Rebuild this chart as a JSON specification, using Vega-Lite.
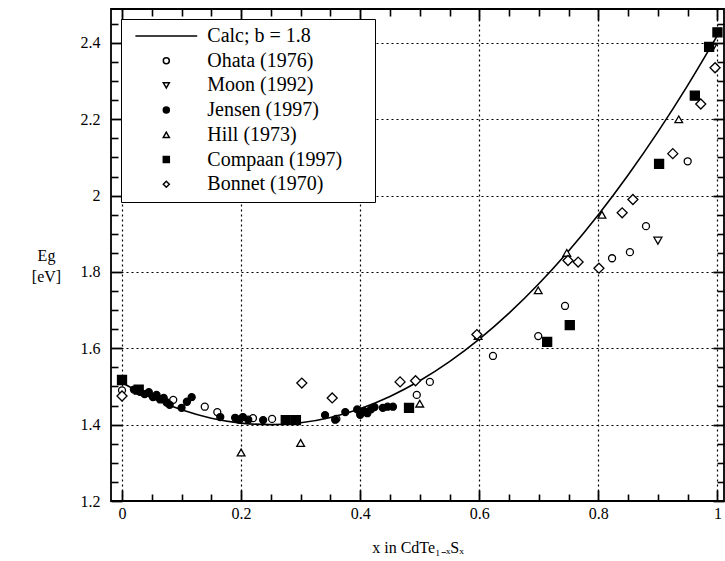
{
  "$schema": "https://vega.github.io/schema/vega-lite/v6.json",
  "width": 613,
  "height": 492,
  "autosize": {"type": "none"},
  "padding": {"left": 111, "top": 9, "right": 1, "bottom": 60},
  "config": {
    "view": {"stroke": "black", "strokeWidth": 1.8},
    "font": "Liberation Serif",
    "axis": {
      "domain": false,
      "labelFont": "Liberation Serif",
      "labelFontSize": 16,
      "labelColor": "black",
      "titleFont": "Liberation Serif",
      "titleFontSize": 16,
      "titleFontWeight": "normal",
      "titleColor": "black",
      "gridColor": "black",
      "gridDash": [2, 3],
      "gridWidth": 1.2,
      "labelOverlap": false,
      "labelFlush": false,
      "labelBound": false
    },
    "legend": {
      "labelFont": "Liberation Serif",
      "labelFontSize": 20,
      "labelColor": "black",
      "labelLimit": 400
    }
  },
  "datasets": {
    "calc": [
      {"x": 0, "y": 1.51}, {"x": 0.05, "y": 1.470}, {"x": 0.1, "y": 1.439}, {"x": 0.15, "y": 1.417},
      {"x": 0.2, "y": 1.404}, {"x": 0.25, "y": 1.400}, {"x": 0.3, "y": 1.405}, {"x": 0.35, "y": 1.419},
      {"x": 0.4, "y": 1.442}, {"x": 0.45, "y": 1.474}, {"x": 0.5, "y": 1.515}, {"x": 0.55, "y": 1.565},
      {"x": 0.6, "y": 1.624}, {"x": 0.65, "y": 1.692}, {"x": 0.7, "y": 1.769}, {"x": 0.75, "y": 1.855},
      {"x": 0.8, "y": 1.950}, {"x": 0.85, "y": 2.054}, {"x": 0.9, "y": 2.167}, {"x": 0.95, "y": 2.289},
      {"x": 1.0, "y": 2.42}
    ],
    "points": [
      {"series": "Ohata (1976)", "x": 0, "y": 1.49},
      {"series": "Ohata (1976)", "x": 0.086, "y": 1.465},
      {"series": "Ohata (1976)", "x": 0.139, "y": 1.447},
      {"series": "Ohata (1976)", "x": 0.16, "y": 1.433},
      {"series": "Ohata (1976)", "x": 0.22, "y": 1.417},
      {"series": "Ohata (1976)", "x": 0.252, "y": 1.415},
      {"series": "Ohata (1976)", "x": 0.36, "y": 1.415},
      {"series": "Ohata (1976)", "x": 0.495, "y": 1.478},
      {"series": "Ohata (1976)", "x": 0.517, "y": 1.512},
      {"series": "Ohata (1976)", "x": 0.623, "y": 1.58},
      {"series": "Ohata (1976)", "x": 0.699, "y": 1.632},
      {"series": "Ohata (1976)", "x": 0.744, "y": 1.711},
      {"series": "Ohata (1976)", "x": 0.823, "y": 1.836},
      {"series": "Ohata (1976)", "x": 0.853, "y": 1.852},
      {"series": "Ohata (1976)", "x": 0.88, "y": 1.92},
      {"series": "Ohata (1976)", "x": 0.95, "y": 2.09},
      {"series": "Moon (1992)", "x": 0.9, "y": 1.882},
      {"series": "Moon (1992)", "x": 0.992, "y": 2.388},
      {"series": "Jensen (1997)", "x": 0.02, "y": 1.492},
      {"series": "Jensen (1997)", "x": 0.03, "y": 1.486},
      {"series": "Jensen (1997)", "x": 0.038, "y": 1.48},
      {"series": "Jensen (1997)", "x": 0.045, "y": 1.485},
      {"series": "Jensen (1997)", "x": 0.052, "y": 1.472},
      {"series": "Jensen (1997)", "x": 0.058, "y": 1.478},
      {"series": "Jensen (1997)", "x": 0.064, "y": 1.466},
      {"series": "Jensen (1997)", "x": 0.07, "y": 1.47},
      {"series": "Jensen (1997)", "x": 0.075, "y": 1.458},
      {"series": "Jensen (1997)", "x": 0.08, "y": 1.452},
      {"series": "Jensen (1997)", "x": 0.1, "y": 1.444},
      {"series": "Jensen (1997)", "x": 0.109, "y": 1.46},
      {"series": "Jensen (1997)", "x": 0.117, "y": 1.472},
      {"series": "Jensen (1997)", "x": 0.165, "y": 1.42},
      {"series": "Jensen (1997)", "x": 0.19, "y": 1.418},
      {"series": "Jensen (1997)", "x": 0.197, "y": 1.413},
      {"series": "Jensen (1997)", "x": 0.203, "y": 1.42},
      {"series": "Jensen (1997)", "x": 0.212, "y": 1.413},
      {"series": "Jensen (1997)", "x": 0.237, "y": 1.412},
      {"series": "Jensen (1997)", "x": 0.341, "y": 1.425},
      {"series": "Jensen (1997)", "x": 0.358, "y": 1.413},
      {"series": "Jensen (1997)", "x": 0.375, "y": 1.433},
      {"series": "Jensen (1997)", "x": 0.395, "y": 1.44},
      {"series": "Jensen (1997)", "x": 0.4, "y": 1.426},
      {"series": "Jensen (1997)", "x": 0.406, "y": 1.436},
      {"series": "Jensen (1997)", "x": 0.412, "y": 1.43},
      {"series": "Jensen (1997)", "x": 0.418, "y": 1.44},
      {"series": "Jensen (1997)", "x": 0.424, "y": 1.446},
      {"series": "Jensen (1997)", "x": 0.438, "y": 1.444},
      {"series": "Jensen (1997)", "x": 0.446, "y": 1.447},
      {"series": "Jensen (1997)", "x": 0.455, "y": 1.447},
      {"series": "Hill (1973)", "x": 0.2, "y": 1.327},
      {"series": "Hill (1973)", "x": 0.3, "y": 1.352},
      {"series": "Hill (1973)", "x": 0.5, "y": 1.455},
      {"series": "Hill (1973)", "x": 0.598, "y": 1.632},
      {"series": "Hill (1973)", "x": 0.699, "y": 1.752},
      {"series": "Hill (1973)", "x": 0.747, "y": 1.85},
      {"series": "Hill (1973)", "x": 0.806, "y": 1.95},
      {"series": "Hill (1973)", "x": 0.935, "y": 2.2},
      {"series": "Compaan (1997)", "x": 0, "y": 1.517},
      {"series": "Compaan (1997)", "x": 0.028, "y": 1.492},
      {"series": "Compaan (1997)", "x": 0.275, "y": 1.412},
      {"series": "Compaan (1997)", "x": 0.292, "y": 1.412},
      {"series": "Compaan (1997)", "x": 0.482, "y": 1.444},
      {"series": "Compaan (1997)", "x": 0.714, "y": 1.617},
      {"series": "Compaan (1997)", "x": 0.752, "y": 1.661},
      {"series": "Compaan (1997)", "x": 0.902, "y": 2.083},
      {"series": "Compaan (1997)", "x": 0.962, "y": 2.262},
      {"series": "Compaan (1997)", "x": 0.986, "y": 2.39},
      {"series": "Compaan (1997)", "x": 1.0, "y": 2.428},
      {"series": "Bonnet (1970)", "x": 0, "y": 1.475},
      {"series": "Bonnet (1970)", "x": 0.302, "y": 1.509},
      {"series": "Bonnet (1970)", "x": 0.353, "y": 1.47},
      {"series": "Bonnet (1970)", "x": 0.467, "y": 1.512},
      {"series": "Bonnet (1970)", "x": 0.493, "y": 1.515},
      {"series": "Bonnet (1970)", "x": 0.596, "y": 1.636},
      {"series": "Bonnet (1970)", "x": 0.749, "y": 1.83},
      {"series": "Bonnet (1970)", "x": 0.766, "y": 1.826},
      {"series": "Bonnet (1970)", "x": 0.801, "y": 1.81},
      {"series": "Bonnet (1970)", "x": 0.84, "y": 1.955},
      {"series": "Bonnet (1970)", "x": 0.858, "y": 1.99},
      {"series": "Bonnet (1970)", "x": 0.925, "y": 2.11},
      {"series": "Bonnet (1970)", "x": 0.972, "y": 2.24},
      {"series": "Bonnet (1970)", "x": 0.996, "y": 2.335}
    ]
  },
  "layer": [
    {
      "data": {"name": "calc"},
      "mark": {"type": "line", "color": "black", "strokeWidth": 1.6, "interpolate": "monotone"},
      "encoding": {
        "x": {
          "field": "x", "type": "quantitative",
          "scale": {"domain": [-0.0185, 1.011], "nice": false, "zero": false},
          "axis": {
            "orient": "bottom", "values": [0, 0.2, 0.4, 0.6, 0.8, 1], "format": "~g",
            "ticks": true, "tickSize": -11, "tickColor": "black", "tickWidth": 1.8, "grid": true, "labelPadding": 15,
            "title": "x in CdTe₁₋ₓSₓ", "titleY": 38, "titleBaseline": "top"
          }
        },
        "y": {
          "field": "y", "type": "quantitative",
          "scale": {"domain": [1.2, 2.489], "nice": false, "zero": false},
          "axis": {
            "orient": "left", "values": [1.2, 1.4, 1.6, 1.8, 2, 2.2, 2.4], "format": "~g",
            "ticks": true, "tickSize": -11, "tickColor": "black", "tickWidth": 1.8, "grid": true, "labelPadding": 22,
            "title": ["Eg", "[eV]"], "titleAngle": 0, "titleAlign": "center", "titleBaseline": "middle",
            "titleLineHeight": 21, "titleX": -65, "titleY": 246
          }
        }
      }
    },
    {
      "data": {"name": "points"},
      "transform": [{"filter": "datum.series === 'Ohata (1976)'"}],
      "mark": {"type": "point", "stroke": "black", "strokeWidth": 1.3, "opacity": 1, "size": 49},
      "encoding": {
        "x": {"field": "x", "type": "quantitative",
          "axis": {"orient": "top", "values": [0, 0.2, 0.4, 0.6, 0.8, 1], "labels": false, "grid": false, "title": null, "ticks": true, "tickSize": -11, "tickColor": "black", "tickWidth": 1.8}},
        "y": {"field": "y", "type": "quantitative",
          "axis": {"orient": "left", "values": [1.25, 1.3, 1.35, 1.45, 1.5, 1.55, 1.65, 1.7, 1.75, 1.85, 1.9, 1.95, 2.05, 2.1, 2.15, 2.25, 2.3, 2.35, 2.45], "labels": false, "grid": false, "title": null, "ticks": true, "tickSize": -7, "tickColor": "black", "tickWidth": 1.6}},
        "shape": {"field": "series", "type": "nominal",
          "scale": {"domain": ["Calc; b = 1.8", "Ohata (1976)", "Moon (1992)", "Jensen (1997)", "Hill (1973)", "Compaan (1997)", "Bonnet (1970)"],
            "range": ["M-10.3,0H10.3", "circle", "triangle-down", "circle", "triangle-up", "square", "diamond"]},
          "legend": {"title": "\u00a0", "titleOrient": "bottom", "titleFontSize": 1, "titlePadding": 0, "orient": "top-left", "offset": 10, "padding": 7, "strokeColor": "black", "fillColor": "white",
            "symbolSize": 36, "symbolOffset": 28.3, "labelOffset": 31, "rowPadding": 4.7,
            "labelExpr": "datum.label + '\u00a0\u00a0\u00a0\u00a0\u00a0\u200b'",
            "encode": {"symbols": {"update": {"stroke": {"value": "black"}, "strokeWidth": {"value": 1.3}}}}}},
        "fill": {"field": "series", "type": "nominal",
          "scale": {"domain": ["Calc; b = 1.8", "Ohata (1976)", "Moon (1992)", "Jensen (1997)", "Hill (1973)", "Compaan (1997)", "Bonnet (1970)"],
            "range": ["transparent", "white", "white", "black", "white", "black", "white"]},
          "legend": {"title": "\u00a0", "titleOrient": "bottom", "titleFontSize": 1, "titlePadding": 0, "orient": "top-left", "offset": 10, "padding": 7, "strokeColor": "black", "fillColor": "white",
            "symbolSize": 36, "symbolOffset": 28.3, "labelOffset": 31, "rowPadding": 4.7,
            "labelExpr": "datum.label + '\u00a0\u00a0\u00a0\u00a0\u00a0\u200b'",
            "encode": {"symbols": {"update": {"stroke": {"value": "black"}, "strokeWidth": {"value": 1.3}}}}}}
      }
    },
    {
      "data": {"name": "points"},
      "transform": [{"filter": "datum.series === 'Moon (1992)'"}],
      "mark": {"type": "point", "stroke": "black", "strokeWidth": 1.3, "opacity": 1, "size": 64},
      "encoding": {
        "x": {"field": "x", "type": "quantitative",
          "axis": {"orient": "bottom", "values": [0.05, 0.1, 0.15, 0.25, 0.3, 0.35, 0.45, 0.5, 0.55, 0.65, 0.7, 0.75, 0.85, 0.9, 0.95], "labels": false, "grid": false, "title": null, "ticks": true, "tickSize": -7, "tickColor": "black", "tickWidth": 1.6}},
        "y": {"field": "y", "type": "quantitative",
          "axis": {"orient": "right", "values": [1.25, 1.3, 1.35, 1.45, 1.5, 1.55, 1.65, 1.7, 1.75, 1.85, 1.9, 1.95, 2.05, 2.1, 2.15, 2.25, 2.3, 2.35, 2.45], "labels": false, "grid": false, "title": null, "ticks": true, "tickSize": -7, "tickColor": "black", "tickWidth": 1.6}},
        "shape": {"field": "series", "type": "nominal"},
        "fill": {"field": "series", "type": "nominal"}
      }
    },
    {
      "data": {"name": "points"},
      "transform": [{"filter": "datum.series === 'Jensen (1997)'"}],
      "mark": {"type": "point", "stroke": "black", "strokeWidth": 1.3, "opacity": 1, "size": 49},
      "encoding": {
        "x": {"field": "x", "type": "quantitative",
          "axis": {"orient": "top", "values": [0.05, 0.1, 0.15, 0.25, 0.3, 0.35, 0.45, 0.5, 0.55, 0.65, 0.7, 0.75, 0.85, 0.9, 0.95], "labels": false, "grid": false, "title": null, "ticks": true, "tickSize": -7, "tickColor": "black", "tickWidth": 1.6}},
        "y": {"field": "y", "type": "quantitative",
          "axis": {"orient": "right", "values": [1.2, 1.4, 1.6, 1.8, 2, 2.2, 2.4], "labels": false, "grid": false, "title": null, "ticks": true, "tickSize": -11, "tickColor": "black", "tickWidth": 1.8}},
        "shape": {"field": "series", "type": "nominal"},
        "fill": {"field": "series", "type": "nominal"}
      }
    },
    {
      "data": {"name": "points"},
      "transform": [{"filter": "datum.series === 'Hill (1973)'"}],
      "mark": {"type": "point", "stroke": "black", "strokeWidth": 1.3, "opacity": 1, "size": 60},
      "encoding": {
        "x": {"field": "x", "type": "quantitative", "axis": null},
        "y": {"field": "y", "type": "quantitative", "axis": null},
        "shape": {"field": "series", "type": "nominal"},
        "fill": {"field": "series", "type": "nominal"}
      }
    },
    {
      "data": {"name": "points"},
      "transform": [{"filter": "datum.series === 'Compaan (1997)'"}],
      "mark": {"type": "point", "stroke": "black", "strokeWidth": 1.3, "opacity": 1, "size": 81},
      "encoding": {
        "x": {"field": "x", "type": "quantitative", "axis": null},
        "y": {"field": "y", "type": "quantitative", "axis": null},
        "shape": {"field": "series", "type": "nominal"},
        "fill": {"field": "series", "type": "nominal"}
      }
    },
    {
      "data": {"name": "points"},
      "transform": [{"filter": "datum.series === 'Bonnet (1970)'"}],
      "mark": {"type": "point", "stroke": "black", "strokeWidth": 1.3, "opacity": 1, "size": 100},
      "encoding": {
        "x": {"field": "x", "type": "quantitative", "axis": null},
        "y": {"field": "y", "type": "quantitative", "axis": null},
        "shape": {"field": "series", "type": "nominal"},
        "fill": {"field": "series", "type": "nominal"}
      }
    }
  ],
  "resolve": {"axis": {"x": "independent", "y": "independent"}}
}
